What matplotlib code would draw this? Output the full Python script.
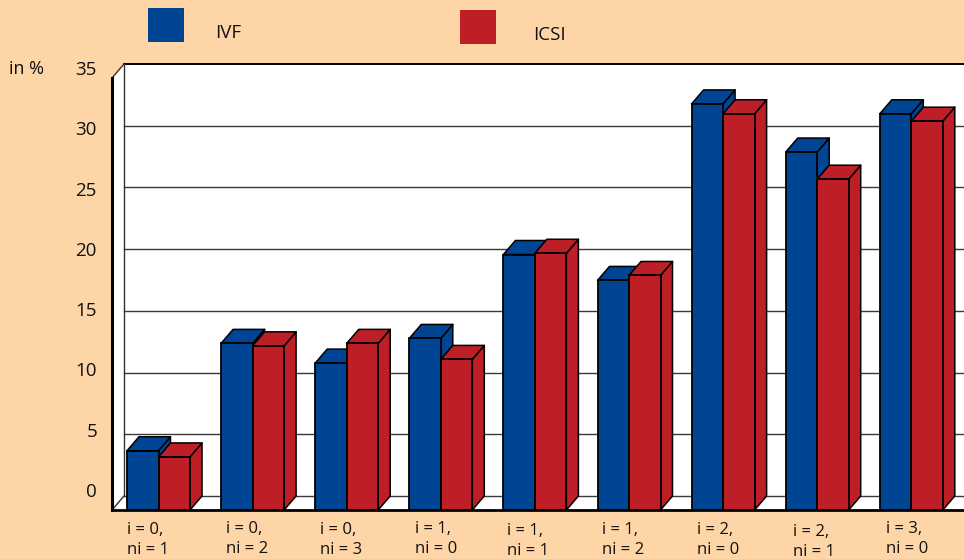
import matplotlib
matplotlib.use("Agg")
import matplotlib.pyplot as plt
from matplotlib.patches import Polygon, Rectangle

# Data #
groups = ["i = 0,\nni = 1", "i = 0,\nni = 2", "i = 0,\nni = 3", "i = 1,\nni = 0", "i = 1,\nni = 1",
          "i = 1,\nni = 2", "i = 2,\nni = 0", "i = 2,\nni = 1", "i = 3,\nni = 0"]
ivf = [4.8, 13.5, 11.9, 13.9, 20.7, 18.6, 32.9, 29.0, 32.1]
icsi = [4.3, 13.3, 13.5, 12.2, 20.8, 19.0, 32.1, 26.8, 31.5]
y_ticks = [0, 5, 10, 15, 20, 25, 30, 35]

BG = "#FED5A7"
BLUE = "#004494"
RED = "#BE1E25"
TEXT = "#111111"
W, H = 964, 559

plt.rcParams["font.family"] = "Open Sans"
fig = plt.figure(figsize=(W / 100, H / 100), dpi=100, facecolor=BG)

# axes spans the front plane of the 3d box, 0 at y=510 and 35 at y=78
ax = fig.add_axes([112 / W, 1 - 510 / H, (W - 112) / W, (510 - 78) / H])
step = 94.1  # px per group
ax.set_xlim((112 - 158.5) / step, (W - 158.5) / step)
ax.set_ylim(0, 35)
ax.axis("off")

bar_w = 31.5 / step
dx = 12 / step
dy = 14 / 12.34
left = ax.get_xlim()[0]
right = ax.get_xlim()[1]


def add_poly(pts, color, lw=1.1, ec="black", z=2):
    ax.add_patch(Polygon(pts, closed=True, fc=color, ec=ec, lw=lw, clip_on=False, zorder=z, joinstyle="round"))


# Box walls #
add_poly([(left + dx, dy), (right + dx, dy), (right + dx, 35 + dy), (left + dx, 35 + dy)], "white", lw=0, ec="none", z=1)
add_poly([(left, 0), (left + dx, dy), (left + dx, 35 + dy), (left, 35)], "white", lw=0, ec="none", z=1)
add_poly([(left, 0), (left + dx, dy), (right + dx, dy), (right + dx, 0)], "white", lw=0, ec="none", z=1)
for v in y_ticks[:-1]:
    ax.plot([left + dx, right], [v + dy, v + dy], color="#3a3a3a", lw=1.0, zorder=1.5, clip_on=False)
ax.plot([left + dx, right], [35 + dy, 35 + dy], color="black", lw=1.4, zorder=1.5, clip_on=False)
ax.plot([left + dx, left + dx], [dy, 35 + dy], color="#333333", lw=1.0, zorder=1.5, clip_on=False)
ax.plot([left, left + dx], [35, 35 + dy], color="#333333", lw=1.0, zorder=1.5, clip_on=False)
ax.plot([left, left + dx], [0, dy], color="#333333", lw=1.0, zorder=1.5, clip_on=False)
ax.plot([left, left], [0, 35], color="black", lw=2.2, zorder=1.6, clip_on=False)
ax.plot([left, right], [0, 0], color="black", lw=2.0, zorder=1.6, clip_on=False)


# Bars #
def draw_bar(x0, h, color, z):
    x1 = x0 + bar_w
    add_poly([(x1, 0), (x1 + dx, dy), (x1 + dx, h + dy), (x1, h)], color, z=z)
    add_poly([(x0, h), (x0 + dx, h + dy), (x1 + dx, h + dy), (x1, h)], color, z=z)
    ax.bar(x0, h, width=bar_w, align="edge", color=color, edgecolor="black", linewidth=1.3, zorder=z + 0.1, clip_on=False)


for i in range(len(groups)):
    draw_bar(i - bar_w, ivf[i], BLUE, 3 + i)
    draw_bar(i, icsi[i], RED, 3.3 + i)

# Tick labels, these sit a bit off the gridlines in the original #
for v in y_ticks:
    fig.text(97 / W, 1 - (492 - v * 12.06) / H, str(v), ha="right", va="center", fontsize=13.5, color=TEXT)

label_x = [127, 226, 320, 415, 507, 602, 697, 793, 886]
label_y = [530, 529, 530, 529, 531, 530, 530, 532, 529]
for i, g in enumerate(groups):
    line1, line2 = g.split("\n")
    fig.text(label_x[i] / W, 1 - label_y[i] / H, line1, ha="left", va="center", fontsize=12, color=TEXT)
    fig.text(label_x[i] / W, 1 - (label_y[i] + 20) / H, line2, ha="left", va="center", fontsize=12, color=TEXT)

fig.text(9 / W, 1 - 69 / H, "in %", ha="left", va="center", fontsize=13, color=TEXT)

# Legend #
fig.add_artist(Rectangle((148 / W, 1 - 42 / H), 36 / W, 34 / H, transform=fig.transFigure, fc=BLUE, ec="none"))
fig.add_artist(Rectangle((460 / W, 1 - 44 / H), 36 / W, 34 / H, transform=fig.transFigure, fc=RED, ec="none"))
fig.text(215 / W, 1 - 33 / H, "IVF", ha="left", va="center", fontsize=13.5, color=TEXT)
fig.text(533 / W, 1 - 35 / H, "ICSI", ha="left", va="center", fontsize=13.5, color=TEXT)

fig.savefig("out.png", dpi=100, facecolor=BG)
